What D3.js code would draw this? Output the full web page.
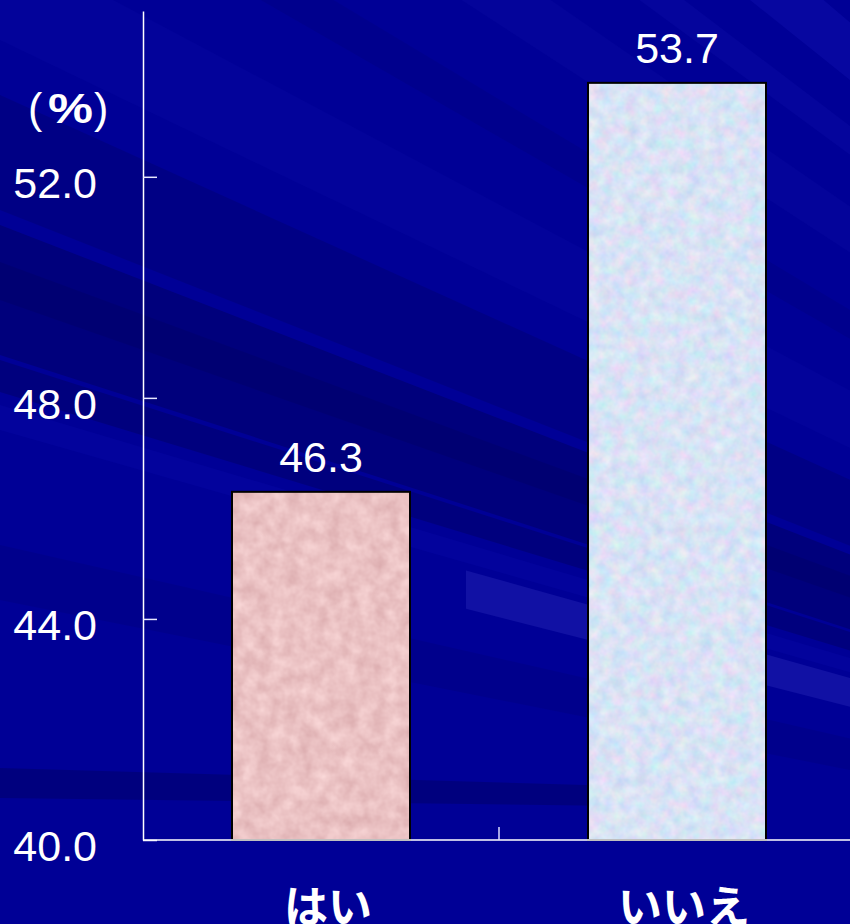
<!DOCTYPE html>
<html>
<head>
<meta charset="utf-8">
<script src="https://cdn.jsdelivr.net/npm/d3@7"></script>
<style>
  html, body { margin: 0; padding: 0; background: #000096; }
  svg { display: block; }
</style>
</head>
<body>
<script>
// Survey answers (percent)
const categories = ["はい", "いいえ"];
const values = [46.3, 53.7];
const yTicks = [40, 44, 48, 52];
const yDomain = [40, 55];
const unitLabel = "%";

const W = 850, H = 924;
const svg = d3.select("body").append("svg").attr("width", W).attr("height", H);
const defs = svg.append("defs");

// ---------- background: navy with soft rays from a far vanishing point ----------
svg.append("rect").attr("width", W).attr("height", H).attr("fill", "#000096");

const vp = [2000, 1000];
function rayPoint(y0) {
  // point well past the left edge along the ray from vp through (0, y0)
  const k = 1.2;
  return [vp[0] + (0 - vp[0]) * k, vp[1] + (y0 - vp[1]) * k];
}
const rays = [
  { a: -900, b: -760, fill: "#1a1ab4", op: 0.22 },
  { a: -700, b: -600, fill: "#1818b8", op: 0.3 },
  { a: -520, b: -470, fill: "#1515b0", op: 0.22 },
  { a: -380, b: -300, fill: "#1212aa", op: 0.22 },
  { a: -200, b: -150, fill: "#00006a", op: 0.2 },
  { a: -60,  b: 40,   fill: "#0a0aa6", op: 0.25 },
  { a: 95,   b: 210,  fill: "#000070", op: 0.45 },
  { a: 225,  b: 355,  fill: "#000062", op: 0.5 },
  { a: 262,  b: 300,  fill: "#00005c", op: 0.3 },
  { a: 360,  b: 392,  fill: "#000062", op: 0.45 },
  { a: 405,  b: 430,  fill: "#0a0aa8", op: 0.35 },
  { a: 545,  b: 600,  fill: "#000070", op: 0.25 }
];
const bg = svg.append("g");
bg.selectAll("path.ray").data(rays).join("path")
  .attr("class", "ray")
  .attr("d", r => "M" + vp + "L" + rayPoint(r.a) + "L" + rayPoint(r.b) + "Z")
  .attr("fill", r => r.fill)
  .attr("opacity", r => r.op);

// lighter strip that starts mid-chart
defs.append("clipPath").attr("id", "stripClip")
  .append("rect").attr("x", 466).attr("y", 0).attr("width", W).attr("height", H);
bg.append("path")
  .attr("clip-path", "url(#stripClip)")
  .attr("d", "M" + vp + "L" + rayPoint(440) + "L" + rayPoint(490) + "Z")
  .attr("fill", "#2a2ab8").attr("opacity", 0.4);

// low, almost flat dark band near the baseline
bg.append("path")
  .attr("d", "M0,768 L620,786 L620,806 L0,798 Z")
  .attr("fill", "#00006c").attr("opacity", 0.55);

// ---------- bar textures ----------
function texture(id, seed, freq, matrix) {
  const f = defs.append("filter").attr("id", id)
    .attr("x", 0).attr("y", 0).attr("width", 1).attr("height", 1)
    .attr("color-interpolation-filters", "sRGB");
  f.append("feTurbulence").attr("type", "fractalNoise")
    .attr("baseFrequency", freq).attr("numOctaves", 3).attr("seed", seed).attr("result", "n");
  f.append("feColorMatrix").attr("in", "n").attr("type", "matrix").attr("values", matrix);
}
texture("pinkTex", 3, 0.07,
  "0.14 0 0 0 0.85  0.20 0 0 0 0.66  0.19 0 0 0 0.67  0 0 0 0 1");
texture("blueTex", 7, 0.08,
  "0.26 0 0 0 0.72  0 0.16 0 0 0.81  0 0 0.08 0 0.92  0 0 0 0 1");
const texIds = ["pinkTex", "blueTex"];

// ---------- scales ----------
const x = d3.scaleBand().domain(categories).range([143, 855])
  .paddingInner(0.5).paddingOuter(0.25);
const y = d3.scaleLinear().domain(yDomain).range([840, 11]);

const font = "'Liberation Sans', Arial, sans-serif";

// ---------- bars ----------
const bars = svg.append("g");
bars.selectAll("rect.fill").data(values).join("rect")
  .attr("class", "fill")
  .attr("x", (d, i) => x(categories[i]))
  .attr("y", d => y(d))
  .attr("width", x.bandwidth())
  .attr("height", d => y(yDomain[0]) - y(d))
  .attr("fill", (d, i) => i === 0 ? "#ebc3c3" : "#d6e4f8")
  .attr("filter", (d, i) => `url(#${texIds[i]})`);
bars.selectAll("rect.edge").data(values).join("rect")
  .attr("class", "edge")
  .attr("x", (d, i) => x(categories[i]))
  .attr("y", d => y(d))
  .attr("width", x.bandwidth())
  .attr("height", d => y(yDomain[0]) - y(d))
  .attr("fill", "none")
  .attr("stroke", "#000").attr("stroke-width", 2);

// value labels
svg.append("g").selectAll("text").data(values).join("text")
  .attr("x", (d, i) => x(categories[i]) + x.bandwidth() / 2)
  .attr("y", d => y(d) - 20)
  .attr("text-anchor", "middle")
  .attr("font-family", font).attr("font-size", 43)
  .attr("fill", "#fff")
  .text(d => d3.format(".1f")(d));

// ---------- y axis ----------
const yAxis = d3.axisLeft(y)
  .tickValues(yTicks)
  .tickFormat(d3.format(".1f"))
  .tickSizeInner(-14)
  .tickSizeOuter(0)
  .tickPadding(46);
const gy = svg.append("g").attr("transform", "translate(143,0)").call(yAxis);
gy.attr("font-family", font).attr("font-size", 43);
gy.select(".domain").attr("stroke", "#fff").attr("stroke-width", 1.5);
gy.selectAll(".tick line").attr("stroke", "#e8e8ff").attr("stroke-width", 1.5);
gy.selectAll(".tick text").attr("fill", "#fff").attr("dy", "20.5px");

// unit label
const unit = svg.append("text")
  .attr("y", 123)
  .attr("font-family", font).attr("font-size", 43).attr("fill", "#fff");
unit.append("tspan").attr("x", 28).text("(");
unit.append("tspan").attr("x", 48).attr("font-weight", "bold")
  .attr("textLength", 45).attr("lengthAdjust", "spacingAndGlyphs").text(unitLabel);
unit.append("tspan").attr("x", 94).text(")");

// ---------- x axis ----------
const x0 = x.range()[0];
const step = x.step();
svg.append("line")
  .attr("x1", x0).attr("x2", W)
  .attr("y1", y(yDomain[0])).attr("y2", y(yDomain[0]))
  .attr("stroke", "#fff").attr("stroke-width", 1.5);
// divider tick between the two categories
const divider = x(categories[0]) + x.bandwidth() + (step - x.bandwidth()) / 2;
svg.append("line")
  .attr("x1", divider).attr("x2", divider)
  .attr("y1", y(yDomain[0])).attr("y2", y(yDomain[0]) - 13)
  .attr("stroke", "#dcdcff").attr("stroke-width", 1.5);

// category labels
svg.append("g").selectAll("text").data(categories).join("text")
  .attr("x", d => x(d) + x.bandwidth() / 2 + 7)
  .attr("y", 923)
  .attr("text-anchor", "middle")
  .attr("font-family", "'Noto Sans CJK JP', sans-serif")
  .attr("font-weight", "bold")
  .attr("font-size", 44)
  .attr("fill", "#fff")
  .text(d => d);
</script>
</body>
</html>
